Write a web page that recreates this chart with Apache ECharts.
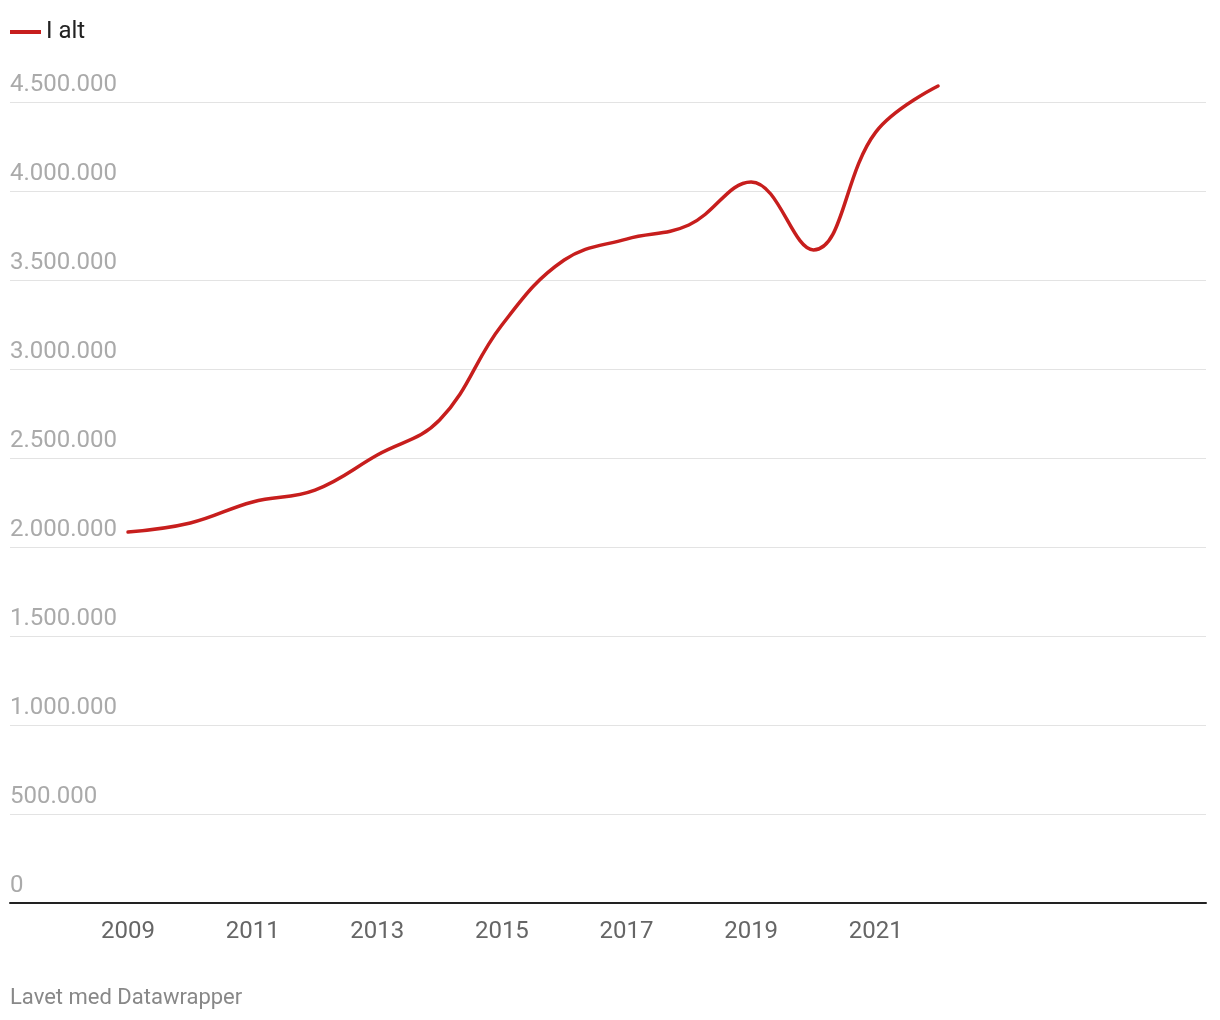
<!DOCTYPE html>
<html>
<head>
<meta charset="utf-8">
<script src="https://cdn.jsdelivr.net/npm/echarts@6/dist/echarts.min.js"></script>
<style>
html,body{margin:0;padding:0;background:#fff;}
#chart{width:1220px;height:1020px;}
</style>
</head>
<body>
<div id="chart"></div>
<script>
// Data
var years = [2009, 2010, 2011, 2012, 2013, 2014, 2015, 2016, 2017, 2018, 2019, 2020, 2021, 2022];
var values = [2084000, 2135000, 2253000, 2320000, 2517000, 2713000, 3247000, 3612000, 3730000, 3809000, 4051000, 3669000, 4331000, 4590000];
var seriesName = 'I alt';
var xTickLabels = [2009, 2011, 2013, 2015, 2017, 2019, 2021];
var yTicks = [0, 500000, 1000000, 1500000, 2000000, 2500000, 3000000, 3500000, 4000000, 4500000];

function fmt(v) {
  return String(Math.round(v)).replace(/\B(?=(\d{3})+(?!\d))/g, '.');
}

var chart = echarts.init(document.getElementById('chart'), null, {renderer: 'canvas'});
var font = 'Roboto, "Open Sans", sans-serif';
chart.setOption({
  animation: false,
  textStyle: {fontFamily: font},
  legend: {
    left: 5, top: 15,
    itemWidth: 31, itemHeight: 4,
    icon: 'rect',
    textStyle: {fontSize: 24, color: '#222', fontFamily: font},
    data: [seriesName]
  },
  grid: {left: 10, right: 14, top: 102, bottom: 117, containLabel: false},
  xAxis: {
    type: 'value',
    min: 2007.106,
    max: 2026.3,
    axisLine: {show: true, lineStyle: {color: '#222', width: 2}},
    axisTick: {show: false},
    splitLine: {show: false},
    axisLabel: {
      customValues: xTickLabels,
      fontSize: 24, color: '#666', margin: 17, fontFamily: font,
      formatter: function (v) { return String(v); }
    }
  },
  yAxis: {
    type: 'value',
    min: yTicks[0],
    max: yTicks[yTicks.length - 1],
    interval: 500000,
    axisLine: {show: false},
    axisTick: {show: false},
    splitLine: {show: true, lineStyle: {color: '#e3e3e3', width: 1}},
    axisLabel: {
      inside: true, margin: 0, align: 'left', verticalAlign: 'bottom',
      padding: [0, 0, 5, 0],
      fontSize: 24, color: '#aaa', fontFamily: font,
      formatter: function (v) { return fmt(v); }
    }
  },
  series: [{
    name: seriesName,
    type: 'line',
    data: years.map(function (y, i) { return [y, values[i]]; }),
    smooth: 0.4,
    clip: false,
    showSymbol: false,
    symbol: 'none',
    lineStyle: {color: '#c71e1d', width: 3.5, cap: 'round'},
    itemStyle: {color: '#c71e1d'},
    z: 3
  }],
  graphic: [{
    type: 'text', left: 10, top: 987,
    style: {text: 'Lavet med Datawrapper', fontSize: 22, fill: '#888', fontFamily: font}
  }]
});
</script>
</body>
</html>
